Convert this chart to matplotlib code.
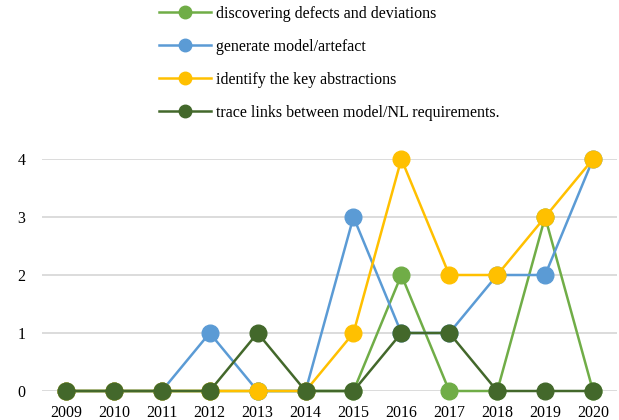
import matplotlib
matplotlib.use("Agg")
import matplotlib.pyplot as plt

years = ["2009", "2010", "2011", "2012", "2013", "2014", "2015", "2016", "2017", "2018", "2019", "2020"]
defects = [0, 0, 0, 0, 0, 0, 0, 2, 0, 0, 3, 0]
generate = [0, 0, 0, 1, 0, 0, 3, 1, 1, 2, 2, 4]
abstractions = [0, 0, 0, 0, 0, 0, 1, 4, 2, 2, 3, 4]
trace = [0, 0, 0, 0, 1, 0, 0, 1, 1, 0, 0, 0]

labels = ["discovering defects and deviations", "generate model/artefact",
          "identify the key abstractions", "trace links between model/NL requirements."]
colors = ["#70AD47", "#5B9BD5", "#FFC000", "#43682B"]

plt.rcParams["font.family"] = ["Liberation Serif", "DejaVu Serif"]

fig = plt.figure(figsize=(6.19, 4.2), dpi=100)
ax = fig.add_axes([42 / 619, (420 - 391) / 420, (617 - 42) / 619, (391 - 159) / 420])

x = list(range(len(years)))
handles = []
for series, col, lab in zip([defects, generate, abstractions, trace], colors, labels):
    h, = ax.plot(x, series, color=col, lw=1.8, marker="o", ms=12, label=lab,
                 clip_on=False, zorder=3)
    handles.append(h)

ax.set_xlim(-0.5, len(years) - 0.5)
ax.set_ylim(0, 4)
ax.set_yticks([0, 1, 2, 3, 4])
ax.set_xticks(x)
ax.set_xticklabels(years)
ax.yaxis.grid(True, color="#D9D9D9", lw=1.3)
ax.set_axisbelow(True)
for s in ax.spines.values():
    s.set_visible(False)
ax.tick_params(axis="both", length=0, labelsize=11.5, colors="#000000")
ax.tick_params(axis="x", pad=10)
ax.tick_params(axis="y", pad=12)

leg = fig.legend(handles=handles, loc="upper left", bbox_to_anchor=(153 / 619, 1.002),
                 frameon=False, fontsize=11.5, handlelength=3.2, handletextpad=0.35,
                 labelspacing=1.07, borderaxespad=0, markerscale=0.75)

fig.savefig("out.png", dpi=100)
